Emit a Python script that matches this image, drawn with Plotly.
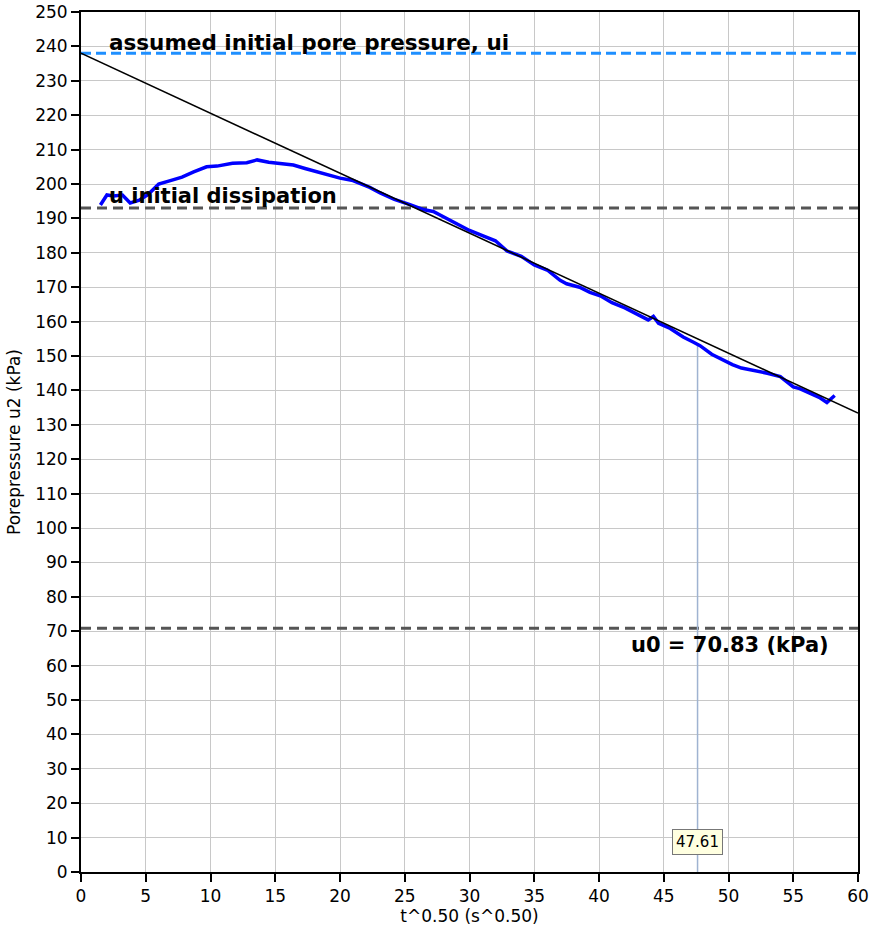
import plotly.graph_objects as go

# Data
t_sqrt = [1.5, 2.0, 2.5, 3.2, 3.8, 4.5, 5.2, 6.0, 6.9, 7.8, 8.7, 9.7, 10.5, 11.7, 12.8, 13.6,
          14.5, 15.1, 16.4, 17.3, 18.2, 19.1, 20.0, 21.0, 21.5, 22.3, 23.1, 24.2, 25.4, 26.5,
          27.2, 28.0, 29.0, 30.0, 31.0, 32.0, 32.9, 34.0, 35.0, 36.0, 37.0, 37.5, 38.5, 39.3,
          40.1, 41.0, 42.0, 43.0, 43.8, 44.2, 44.6, 45.5, 46.5, 47.3, 47.8, 48.7, 49.5, 50.3,
          51.0, 51.7, 53.0, 54.0, 55.0, 55.5, 56.5, 57.0, 57.6, 58.2]
u2 = [193.9, 196.8, 196.5, 196.8, 194.5, 195.3, 197.0, 200.0, 201.0, 202.0, 203.5, 205.0,
      205.2, 206.0, 206.2, 207.0, 206.3, 206.0, 205.5, 204.5, 203.5, 202.5, 201.7, 201.0,
      200.3, 199.0, 197.4, 195.5, 194.0, 192.5, 192.0, 190.5, 188.5, 186.5, 185.0, 183.5,
      180.5, 179.0, 176.5, 175.0, 172.0, 171.0, 170.0, 168.5, 167.5, 165.5, 164.0, 162.0,
      160.5, 161.5, 159.5, 158.0, 155.5, 154.0, 153.0, 150.5, 149.0, 147.5, 146.5, 146.0,
      145.0, 144.0, 141.0, 140.5, 139.0, 138.0, 136.5, 138.5]

fit_x = [0, 60]
fit_y = [238.0, 133.4]

ui = 238.0
u_initial = 193.0
u0 = 70.83
t50 = 47.61
u_at_t50 = 153.3

x_ticks = list(range(0, 61, 5))
y_ticks = list(range(0, 251, 10))

FONT = "DejaVu Sans"

fig = go.Figure()

fig.add_trace(go.Scatter(x=[0, 60], y=[ui, ui], mode="lines",
                         line=dict(color="#1e8fff", width=3, dash="10px,5px"),
                         hoverinfo="skip"))
fig.add_trace(go.Scatter(x=[0, 60], y=[u_initial, u_initial], mode="lines",
                         line=dict(color="#555555", width=3, dash="10px,6px"),
                         hoverinfo="skip"))
fig.add_trace(go.Scatter(x=[0, 60], y=[u0, u0], mode="lines",
                         line=dict(color="#555555", width=3, dash="10px,6px"),
                         hoverinfo="skip"))
fig.add_trace(go.Scatter(x=[t50, t50], y=[0, u_at_t50], mode="lines",
                         line=dict(color="#9fb3d1", width=1.5),
                         hoverinfo="skip"))
fig.add_trace(go.Scatter(x=t_sqrt, y=u2, mode="lines",
                         line=dict(color="#0000ff", width=3.5),
                         hoverinfo="skip"))
fig.add_trace(go.Scatter(x=fit_x, y=fit_y, mode="lines",
                         line=dict(color="#000000", width=1.5),
                         hoverinfo="skip"))

fig.add_annotation(x=2.0, y=ui, text="<b>assumed initial pore pressure, ui</b>",
                   xanchor="left", yanchor="bottom", showarrow=False, yshift=-4,
                   font=dict(family=FONT, size=21.5, color="#000000"))
fig.add_annotation(x=2.0, y=u_initial, text="<b>u initial dissipation</b>",
                   xanchor="left", yanchor="bottom", showarrow=False, yshift=-2,
                   font=dict(family=FONT, size=21, color="#000000"))
fig.add_annotation(x=57.9, y=u0, text="<b>u0 = 70.83 (kPa)</b>",
                   xanchor="right", yanchor="top", showarrow=False, yshift=-3,
                   font=dict(family=FONT, size=21, color="#000000"))
fig.add_annotation(x=t50, y=8.6, text="47.61", showarrow=False,
                   bgcolor="#ffffe0", bordercolor="#777777", borderwidth=1, borderpad=3,
                   font=dict(family=FONT, size=15, color="#000000"))

axis_common = dict(showgrid=True, gridcolor="#c8c8c8", gridwidth=1,
                   showline=True, linecolor="#000000", linewidth=2, mirror=True,
                   ticks="outside", ticklen=8, tickcolor="#000000", tickwidth=1.5,
                   zeroline=False,
                   tickfont=dict(family=FONT, size=17, color="#000000"))

fig.update_xaxes(range=[0, 60], tickvals=x_ticks,
                 title=dict(text="t^0.50 (s^0.50)", standoff=2,
                            font=dict(family=FONT, size=17, color="#000000")),
                 **axis_common)
fig.update_yaxes(range=[0, 250], tickvals=y_ticks,
                 title=dict(text="Porepressure u2 (kPa)", standoff=10,
                            font=dict(family=FONT, size=17, color="#000000")),
                 **axis_common)

fig.update_layout(width=872, height=934, showlegend=False,
                  plot_bgcolor="#ffffff", paper_bgcolor="#ffffff",
                  margin=dict(l=81, r=14, t=12, b=62, autoexpand=False))

fig.write_html("out.html", config={"displayModeBar": False},
               post_script="document.body.style.margin='0px';document.body.style.overflow='hidden';")
